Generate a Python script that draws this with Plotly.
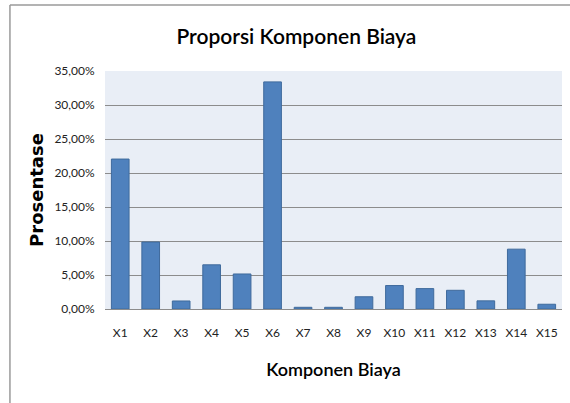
import plotly.graph_objects as go

categories = ["X1", "X2", "X3", "X4", "X5", "X6", "X7", "X8", "X9", "X10", "X11", "X12", "X13", "X14", "X15"]
values = [0.2205, 0.0985, 0.0118, 0.0650, 0.0515, 0.3340, 0.0025, 0.0025, 0.0180, 0.0345, 0.0300, 0.0275, 0.0120, 0.0880, 0.0070]
y_ticks = [0, 0.05, 0.10, 0.15, 0.20, 0.25, 0.30, 0.35]
y_tick_labels = ["0,00%", "5,00%", "10,00%", "15,00%", "20,00%", "25,00%", "30,00%", "35,00%"]

fig = go.Figure(go.Bar(
    x=categories, y=values,
    marker=dict(color="#4F81BD", line=dict(color="#3F6A9C", width=1)),
    width=0.58,
))

font_main = "Lato, Open Sans, Liberation Sans, sans-serif"

fig.update_layout(
    width=570, height=403,
    margin=dict(l=105, r=8, t=71, b=94),
    paper_bgcolor="white",
    plot_bgcolor="#E9EEF6",
    showlegend=False,
    title=dict(text="Proporsi Komponen Biaya", x=0.52, xanchor="center", y=0.91, yanchor="middle",
               font=dict(family=font_main, size=21, color="black", weight=600)),
    xaxis=dict(
        title=dict(text="Komponen Biaya", font=dict(family=font_main, size=18, color="black", weight=600), standoff=23),
        tickfont=dict(family=font_main, size=12, color="#222"),
        showgrid=False, showline=True, linecolor="#8C8C8C",
        ticks="outside", ticklen=13, tickcolor="rgba(0,0,0,0)",
    ),
    yaxis=dict(
        title=dict(text="<b>Prosentase</b>", font=dict(family="DejaVu Sans, Verdana, sans-serif", size=18, color="black"), standoff=6),
        range=[0, 0.35], tickvals=y_ticks, ticktext=y_tick_labels,
        tickfont=dict(family=font_main, size=12, color="#222"),
        showgrid=True, gridcolor="#8C8C8C", gridwidth=1,
        showline=False, zeroline=False,
        ticks="outside", ticklen=7, tickcolor="rgba(0,0,0,0)",
    ),
    shapes=[
        dict(type="line", xref="paper", yref="paper", x0=-0.208, x1=1.1, y0=1.277, y1=1.277,
             line=dict(color="#9A9A9A", width=1.5), layer="below"),
        dict(type="line", xref="paper", yref="paper", x0=-0.208, x1=-0.208, y0=-0.5, y1=1.277,
             line=dict(color="#9A9A9A", width=1.5), layer="below"),
    ],
)

fig.write_html("out.html", config={"displayModeBar": False},
               post_script="document.body.style.margin='0';document.body.style.overflow='hidden';")
